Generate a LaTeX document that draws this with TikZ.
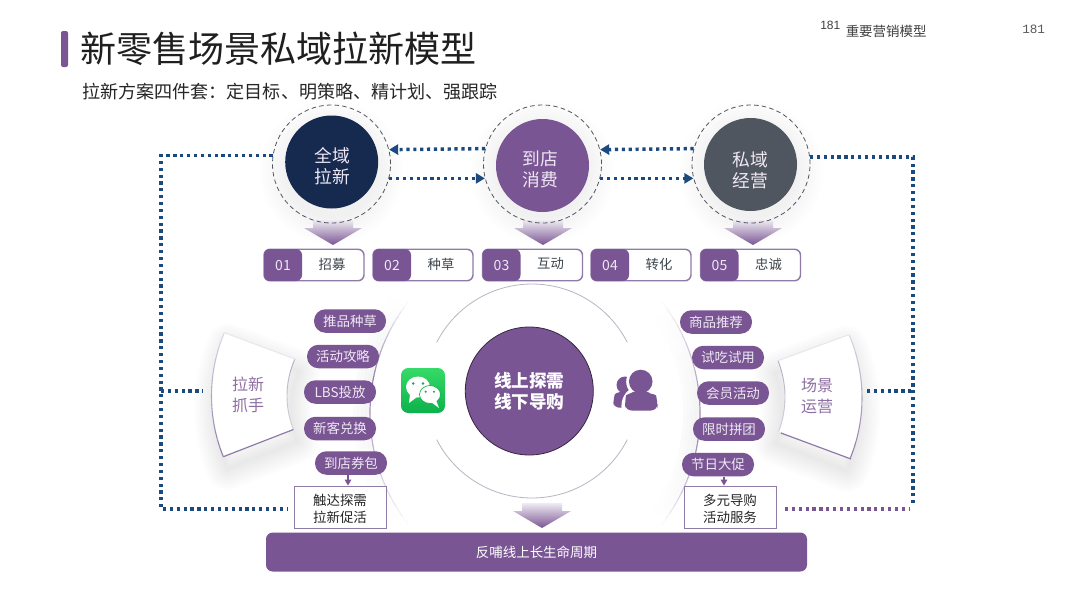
\documentclass[tikz,border=0pt]{standalone}
\usepackage{fontspec}
\setmainfont{Noto Sans CJK SC}
\newfontfamily\arialf{Liberation Sans}
\newfontfamily\monof{Liberation Mono}
\usetikzlibrary{arrows.meta,calc}
\definecolor{pur}{HTML}{7A5593}
\definecolor{purline}{HTML}{8F7AA8}
\definecolor{ringgray}{HTML}{B9B5C4}
\definecolor{navy}{HTML}{1B4A80}
\definecolor{deep}{HTML}{16294F}
\definecolor{slate}{HTML}{50565F}
\definecolor{lav}{HTML}{EFE8F4}
\definecolor{ink}{HTML}{3C444A}
\definecolor{wxtop}{HTML}{35DA68}
\definecolor{wxbot}{HTML}{0DB14B}
\tikzset{
  dotline/.style={draw=navy,line width=2.6pt,dash pattern=on 2.4pt off 2.75pt},
  dotarrow/.style={dotline,-{Triangle[length=6.8pt,width=7.6pt]}},
  ringnode/.style={circle,draw=slate,line width=.6pt,dash pattern=on 3.4pt off 2.4pt,minimum size=118*.75pt,inner sep=0},
  disc/.style={circle,minimum size=93*.75pt,inner sep=0},
  disctext/.style={inner sep=0,text=lav,align=center,font=\fontsize{13.3}{16}\selectfont},
  stagebox/.style={draw=purline,line width=1.1pt,fill=white,rounded corners=4.5pt,minimum width=100*.75pt,minimum height=31.5*.75pt,inner sep=0},
  numtag/.style={fill=pur,rounded corners=4.5pt,minimum width=38*.75pt,minimum height=32*.75pt,inner sep=0,text=lav,font=\fontsize{10.5}{12}\selectfont},
  steptext/.style={inner sep=0,text=ink,font=\fontsize{10}{12}\selectfont},
  pill/.style={fill=pur,rounded corners=8.6pt,minimum width=72*.75pt,minimum height=23.5*.75pt,inner sep=0,text=lav,font=\fontsize{10.1}{12}\selectfont},
  outbox/.style={draw=purline,line width=.7pt,fill=white,minimum width=92*.75pt,minimum height=42*.75pt,inner sep=0},
  outtext/.style={inner sep=0,align=center,text=black!85,font=\fontsize{10.1}{12.7}\selectfont},
  sectortext/.style={inner sep=0,align=center,text=pur!85,font=\fontsize{12}{15.5}\selectfont},
  droparrow/.style={draw=pur,line width=.8pt,-{Triangle[length=4.5pt,width=5pt]}}
}
% cx cy r a0 a1 op0 op1 style (screen angles)
\newcommand\fadearc[8]{%
  \foreach \k in {0,...,13}{%
    \pgfmathsetmacro\aS{#4+(#5-#4)*\k/14}%
    \pgfmathsetmacro\aE{#4+(#5-#4)*(\k+1)/14}%
    \pgfmathsetmacro\opc{#6+(#7-#6)*(\k+.5)/14}%
    \draw[#8,opacity=\opc] plot[domain=\aS:\aE,samples=4] ({#1+(#3)*cos(\x)},{#2+(#3)*sin(\x)});
  }}
\newcommand\halo[2]{%
  \foreach \rr in {46,48,...,72}{\fill[black,opacity=.0055] (#1,#2+8) circle[radius=\rr];}}
\newcommand\dnshape[2]{% cx ytop
  \shade[top color=pur!12,bottom color=pur] (#1-20,#2) -- (#1+20,#2) -- (#1+20,#2+8) -- (#1+29,#2+8) -- (#1,#2+25) -- (#1-29,#2+8) -- (#1-20,#2+8) -- cycle;}
\newcommand\sectorL{plot[domain=158:203,samples=30] ({373.5+162*cos(\x)},{396+162*sin(\x)}) -- plot[domain=204:158.4,samples=20] ({378+91*cos(\x)},{396+91*sin(\x)}) -- cycle}
\newcommand\sectorR{plot[domain=-23.3:22.3,samples=30] ({702+160*cos(\x)},{398+160*sin(\x)}) -- plot[domain=20.5:-21.6,samples=20] ({687.5+97.5*cos(\x)},{397+97.5*sin(\x)}) -- cycle}
\begin{document}
\begin{tikzpicture}[x=.75pt,y=-.75pt]
\useasboundingbox (0,0) rectangle (1080,608);
\fill[white] (0,0) rectangle (1080,608);

% header
\fill[pur,rounded corners=1.5pt] (61,31) rectangle (68,67);
\node[inner sep=0,anchor=west,text=black!88,font=\fontsize{27.05}{30}\selectfont] (title) at (80,49) {新零售场景私域拉新模型};
\node[inner sep=0,anchor=west,text=black!85,font=\fontsize{13.55}{16}\selectfont] (subtitle) at (82,92) {拉新方案四件套：定目标、明策略、精计划、强跟踪};
\node[inner sep=0,anchor=west,text=black!75,font=\arialf\fontsize{9}{11}\selectfont] (pageA) at (820,25.5) {181};
\node[inner sep=0,anchor=west,text=black!75,font=\fontsize{10.1}{12}\selectfont] (section) at (845.5,31) {重要营销模型};
\node[inner sep=0,anchor=west,text=black!65,font=\monof\fontsize{9.5}{11}\selectfont] (pageB) at (1022,29) {181};

% halos
\halo{331.5}{164}\halo{542.5}{164}\halo{751}{164}

% down arrows
\dnshape{333}{220}\dnshape{543}{220}\dnshape{753}{220}

% top circles
\node[ringnode] (ringA) at (331.5,164) {};
\node[ringnode] (ringB) at (542.5,164) {};
\node[ringnode] (ringC) at (751,164) {};
\node[disc,fill=deep] (discA) at (331.7,162) {};
\node[disc,fill=pur] (discB) at (542.5,165.5) {};
\node[disc,fill=slate] (discC) at (750.5,164.5) {};
\node[disctext] (txtA) at (332,166) {全域\\拉新};
\node[disctext] (txtB) at (540,169.5) {到店\\消费};
\node[disctext] (txtC) at (750,170) {私域\\经营};

% stage boxes
\foreach \n/\bx/\num/\lab in {1/314/01/招募,2/423/02/种草,3/532.5/03/互动,4/641/04/转化,5/750.5/05/忠诚}{
  \node[stagebox] (box\n) at (\bx,265) {};
  \node[numtag] (tag\n) at (\bx-31,265) {\num};
  \node[steptext] (lab\n) at (\bx+18,264) {\lab};
}

% big soft arcs
\foreach \o/\w in {3/.05,7/.04,11/.03,15/.02}{
  \fadearc{551}{413}{181+\o}{218}{190}{0}{\w}{draw=black,line width=3pt}
  \fadearc{551}{413}{181+\o}{190}{142}{\w}{0}{draw=black,line width=3pt}
  \fadearc{519}{413}{181-\o}{-38}{5}{0}{\w}{draw=black,line width=3pt}
  \fadearc{519}{413}{181-\o}{5}{38}{\w}{0}{draw=black,line width=3pt}
}
\fadearc{551}{413}{181}{218}{190}{0}{1}{draw=purline,line width=.9pt}
\fadearc{551}{413}{181}{190}{142}{1}{0}{draw=purline,line width=.9pt}
\fadearc{519}{413}{181}{-38}{5}{0}{1}{draw=purline,line width=.9pt}
\fadearc{519}{413}{181}{5}{38}{1}{0}{draw=purline,line width=.9pt}

% centre rings
\draw[draw=ringgray,line width=.6pt] plot[domain=207:333,samples=50] ({532+107*cos(\x)},{391+107*sin(\x)});
\draw[draw=ringgray,line width=.6pt] plot[domain=153:27,samples=50] ({532+107*cos(\x)},{391+107*sin(\x)});
\node[circle,fill=pur,draw=black!55!pur,line width=.6pt,minimum size=128*.75pt,inner sep=0,text=white,align=center,font=\bfseries\fontsize{13.2}{15.7}\selectfont] (core) at (529.3,391) {线上探需\\线下导购};

% sectors
\foreach \sz in {2,5,...,32}{
  \begin{scope}[shift={(4,12)}]
    \draw[pur!70!black,opacity=.009,line width=\sz pt,line join=round] \sectorL;
  \end{scope}
  \begin{scope}[shift={(-3,12)}]
    \draw[pur!70!black,opacity=.009,line width=\sz pt,line join=round] \sectorR;
  \end{scope}
}
\fill[white] \sectorL;
\fill[white] \sectorR;
% left sector edges
\fadearc{373.5}{396}{162}{203}{158}{.25}{1}{draw=purline,line width=.8pt}
\fadearc{378}{396}{91}{204}{158.4}{.6}{.3}{draw=purline,line width=.7pt}
\draw[purline,line width=.9pt] (223.3,456.7) -- (293.4,429.5);
\draw[purline!20,line width=.7pt] (224.4,332.7) -- (294.9,359);
% right sector edges
\fadearc{702}{398}{160}{-23.3}{22.3}{.25}{1}{draw=purline,line width=.8pt}
\fadearc{687.5}{397}{97.5}{-21.6}{20.5}{.6}{.3}{draw=purline,line width=.7pt}
\draw[purline,line width=.9pt] (851,459) -- (780.9,433);
\draw[purline!20,line width=.7pt] (848,335) -- (777,361);
\node[sectortext] (leverL) at (248,395) {拉新\\抓手};
\node[sectortext] (leverR) at (817,396) {场景\\运营};

% pills
\foreach \n/\px/\py/\lab in {1/350/321/推品种草,2/343/356.5/活动攻略,3/340/392/LBS投放,4/340/428.5/新客兑换,5/351/463/到店券包}{
  \node[pill] (pl\n) at (\px,\py) {\lab};
}
\foreach \n/\px/\py/\lab in {1/716/322/商品推荐,2/728/357.5/试吃试用,3/733/393/会员活动,4/729/429/限时拼团,5/718/464.5/节日大促}{
  \node[pill] (pr\n) at (\px,\py) {\lab};
}

% output boxes
\node[outbox] (boxL) at (340,507) {};
\node[outbox] (boxR) at (730,507) {};
\node[outtext] (outL) at (340,509) {触达探需\\拉新促活};
\node[outtext] (outR) at (730,509) {多元导购\\活动服务};
\coordinate (dropL) at (348,480);
\coordinate (dropR) at (724,480);
\draw[droparrow] (dropL |- pl5.south) -- (dropL |- boxL.north);
\draw[droparrow] (dropR |- pr5.south) -- (dropR |- boxR.north);

% wechat icon
\shade[top color=wxtop,bottom color=wxbot,rounded corners=5.5pt] (401,368) rectangle (445,413);
\begin{scope}
  \fill[white] (418,387) ellipse[x radius=12,y radius=10.5];
  \fill[white] (410,394) -- (409,403) -- (417,397) -- cycle;
  \filldraw[white,draw=wxbot,line width=.5pt] (430,394.5) ellipse[x radius=10.5,y radius=9];
  \fill[white] (436,400) -- (439,408) -- (431,402) -- cycle;
  \fill[wxbot] (413.3,383.5) circle[radius=1.4];
  \fill[wxbot] (423,383.5) circle[radius=1.4];
  \fill[wxbot] (425.7,391.7) circle[radius=1.2];
  \fill[wxbot] (434,391.7) circle[radius=1.2];
\end{scope}

% people icon
\fill[pur] (625,385) circle[radius=8.5];
\fill[pur,rounded corners=4pt] (613,407.5) -- (613.5,400) .. controls (615,393) and (620,392) .. (627,391) -- (635,392) -- (632,407.5) -- cycle;
\fill[white] (640.7,381.7) circle[radius=14.5];
\fill[white,rounded corners=4pt] (621,412) -- (622,398) -- (630,388) -- (650,388) -- (660,400) -- (660,412) -- cycle;
\fill[pur] (640.7,381.5) circle[radius=11.8];
\fill[pur,rounded corners=5pt] (625,410.5) -- (625,402) .. controls (626,395) and (631,393) .. (636,390) -- (646,390) .. controls (650,393) and (656,395) .. (657.5,402) -- (657.5,410.5) -- cycle;

% feedback bar
\dnshape{542}{503}
\node[fill=pur,rounded corners=5pt,minimum width=541*.75pt,minimum height=39*.75pt,inner sep=0,text=white,font=\fontsize{10.1}{12}\selectfont] (bar) at (536.5,552) {反哺线上长生命周期};

% connectors
\draw[dotarrow] (ringB.165.6) -- (ringA.14.4);
\draw[dotarrow] (ringA.-14.4) -- (ringB.194.4);
\draw[dotarrow] (ringC.165.6) -- (ringB.14.4);
\draw[dotarrow] (ringB.-14.4) -- (ringC.194.4);
\coordinate (railL) at (161,300);
\coordinate (railR) at (913,300);
\coordinate (midL) at (203,391);
\coordinate (midR) at (867,391);
\coordinate (footL) at (288,509);
\coordinate (footR) at (785,509);
\coordinate (railEnd) at (913,504);
\coordinate (footEnd) at (910,509);
\draw[dotline] (ringA.172.2) -- (railL |- ringA.172.2) -- (railL |- footL) -- (footL);
\draw[dotline] (railL |- midL) -- (midL);
\draw[dotline] (ringC.7.8) -- (railR |- ringC.7.8) -- (railEnd);
\draw[dotline] (midR) -- (railR |- midR);
\draw[dotline,draw=pur] (footR) -- (footEnd);
\end{tikzpicture}
\end{document}
